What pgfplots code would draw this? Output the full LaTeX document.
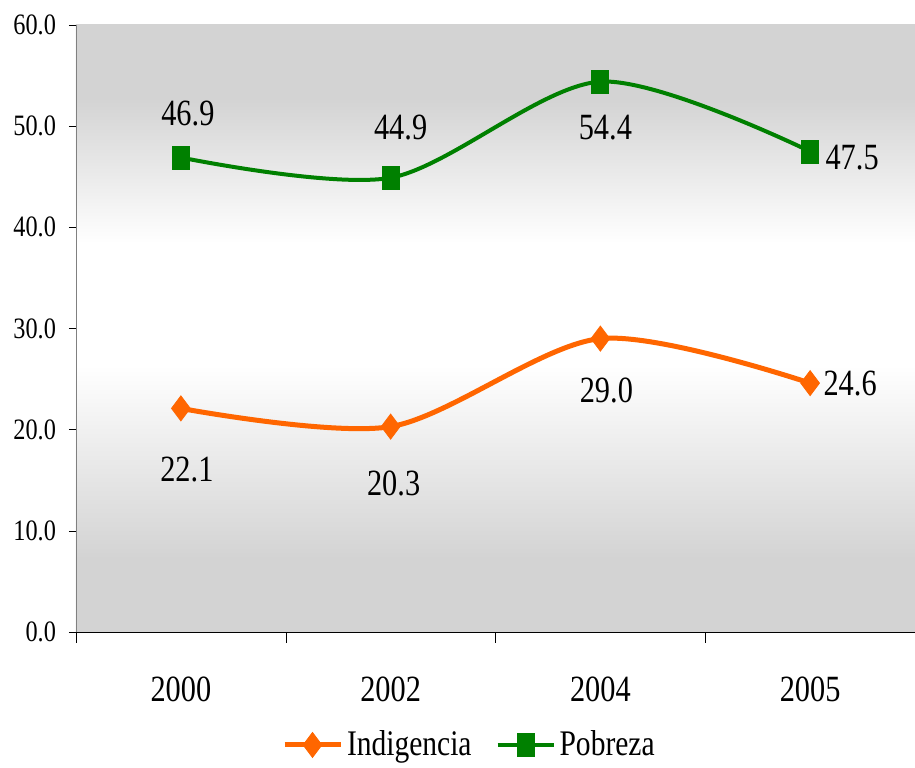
\documentclass[border=0pt]{standalone}
\usepackage{fontspec}
\setmainfont{Liberation Serif}[FakeStretch=0.82]
\usepackage{pgfplots}
\usepackage{pgfplotstable}
\pgfplotsset{compat=1.18}
\usetikzlibrary{calc}

\definecolor{bggray}{RGB}{211,211,211}
\definecolor{indig}{RGB}{255,102,0}
\definecolor{pobre}{RGB}{0,128,0}

\pgfdeclareverticalshading{plotbg}{100bp}{%
  color(0bp)=(bggray); color(25bp)=(bggray); color(31bp)=(bggray);
  color(47bp)=(white); color(57bp)=(white);
  color(69bp)=(bggray); color(75bp)=(bggray); color(100bp)=(bggray)}

% x y dx dy  (dx, dy: label offset in pt)
\pgfplotstableread{
x y dx dy
0 22.1 3 -30.5
1 20.3 1.5 -28.5
2 29.0 3 -26
3 24.6 20 0
}\indig

\pgfplotstableread{
x y dx dy
0 46.9 3.5 22
1 44.9 5 25
2 54.4 2.5 -23
3 47.5 21 -3
}\pobre

\begin{document}
\begin{tikzpicture}
\begin{axis}[
    name=ax,
    scale only axis,
    width=419.5pt, height=303.5pt,
    xmin=-0.5, xmax=3.5,
    ymin=0, ymax=60,
    axis y line*=left,
    axis x line*=bottom,
    y axis line style={draw=gray},
    x axis line style={draw=black},
    axis background/.style={shading=plotbg},
    xtick={0,1,2,3},
    xticklabels={2000,2002,2004,2005},
    xtick style={draw=none},
    xticklabel style={anchor=north, yshift=-15.5pt, font=\fontsize{18.5}{20}\selectfont},
    extra x ticks={-0.5,0.5,1.5,2.5},
    extra x tick labels={},
    extra x tick style={xtick style={draw=black}, major tick length=5.5pt, tick align=outside},
    ytick={0,10,...,60},
    yticklabel style={/pgf/number format/fixed, /pgf/number format/fixed zerofill,
        /pgf/number format/precision=1, xshift=-3pt, font=\fontsize{14.8}{16}\selectfont},
    /pgf/number format/assume math mode=true,
    ytick style={draw=black},
    major tick length=3.5pt,
    tick align=outside,
    clip=false,
    smooth, tension=0.5,
    nodes near coords={\pgfmathprintnumber[fixed,fixed zerofill,precision=1]{\pgfplotspointmeta}},
    visualization depends on={\thisrow{dx} \as \dx},
    visualization depends on={\thisrow{dy} \as \dy},
    every node near coord/.style={anchor=center, xshift=\dx pt, yshift=\dy pt,
        font=\fontsize{18.5}{20}\selectfont, text=black},
    legend columns=-1,
    legend style={at={(0.47,0)}, anchor=center, yshift=-56.5pt, draw=none, fill=none,
        font=\fontsize{18}{19}\selectfont,
        /tikz/every even column/.append style={column sep=10pt}},
    legend image code/.code={%
        \draw[#1,mark repeat=2,mark phase=2] plot coordinates {(0pt,0pt)(14pt,0pt)(28pt,0pt)};},
]
\addplot[color=indig, line width=2.5pt, mark=diamond*, mark size=6.25pt,
    mark options={solid, line width=0.4pt, fill=indig}] table[x=x,y=y] {\indig};
\addlegendentry{Indigencia}
\addplot[color=pobre, line width=2pt, mark=square*, mark size=5.75pt,
    mark options={solid, line width=0.4pt, fill=pobre, xscale=0.74}] table[x=x,y=y] {\pobre};
\addlegendentry{Pobreza}
\end{axis}
\pgfresetboundingbox
\path[use as bounding box] ($(ax.south west)+(-38pt,-68pt)$) rectangle ($(ax.north east)+(0,12.5pt)$);
\end{tikzpicture}
\end{document}
